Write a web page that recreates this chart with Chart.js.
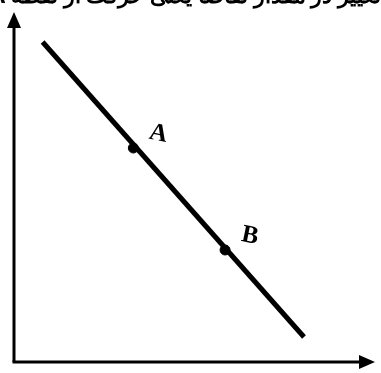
<!DOCTYPE html>
<html>
<head>
<meta charset="utf-8">
<script src="https://cdn.jsdelivr.net/npm/chart.js@4"></script>
<style>
  html, body { margin: 0; padding: 0; background: #fff; }
  #wrap { width: 381px; height: 373px; }
</style>
</head>
<body>
<div id="wrap"><canvas id="myChart"></canvas></div>
<script>
// Recta (de arriba a la izquierda hacia abajo a la derecha)
const lineX = [29, 294];
const lineY = [320, 25];

// Puntos marcados sobre la recta
const pointNames = ['A', 'B'];
const pointX = [121, 214];
const pointY = [214, 112];

// Texto de arriba (cortado en la imagen)
const titleText = 'تغییر در مقدار تقاضا یعنی حرکت از نقطه A به B';

// Ejes con flechas, etiquetas de los puntos y título
const drawExtras = {
    id: 'drawExtras',
    afterDatasetsDraw(chart) {
        const { ctx, chartArea: a, scales } = chart;
        ctx.save();
        ctx.strokeStyle = '#000';
        ctx.fillStyle = '#000';
        ctx.lineWidth = 3;

        // eje y
        ctx.beginPath();
        ctx.moveTo(a.left, a.bottom);
        ctx.lineTo(a.left, a.top + 12);
        ctx.stroke();
        ctx.beginPath();
        ctx.moveTo(a.left, a.top);
        ctx.lineTo(a.left - 7, a.top + 16);
        ctx.lineTo(a.left + 7, a.top + 16);
        ctx.closePath();
        ctx.fill();

        // eje x
        ctx.beginPath();
        ctx.moveTo(a.left - 1.5, a.bottom);
        ctx.lineTo(a.right - 12, a.bottom);
        ctx.stroke();
        ctx.beginPath();
        ctx.moveTo(a.right, a.bottom);
        ctx.lineTo(a.right - 16, a.bottom - 7);
        ctx.lineTo(a.right - 16, a.bottom + 7);
        ctx.closePath();
        ctx.fill();

        // etiquetas A y B
        ctx.font = 'bold 25px "Liberation Serif"';
        ctx.textAlign = 'center';
        ctx.textBaseline = 'middle';
        pointNames.forEach((name, i) => {
            const px = scales.x.getPixelForValue(pointX[i]);
            const py = scales.y.getPixelForValue(pointY[i]);
            ctx.save();
            ctx.translate(px + 25, py - 14);
            ctx.rotate(0.2);
            ctx.fillText(name, 0, 0);
            ctx.restore();
        });

        // título cortado arriba
        ctx.font = 'bold 22px "Noto Sans"';
        ctx.textAlign = 'right';
        ctx.textBaseline = 'alphabetic';
        ctx.direction = 'rtl';
        ctx.fillText(titleText, 381, 3);
        ctx.restore();
    }
};

const ctx = document.getElementById('myChart').getContext('2d');
let myChart = new Chart(ctx, {
    type: 'scatter',
    data: {
        datasets: [{
            label: 'recta',
            data: lineX.map((x, i) => ({ x: x, y: lineY[i] })),
            showLine: true,
            borderColor: '#000',
            borderWidth: 5,
            pointRadius: 0
        }, {
            label: 'puntos',
            data: pointX.map((x, i) => ({ x: x, y: pointY[i] })),
            backgroundColor: '#000',
            borderColor: '#000',
            pointRadius: 5
        }]
    },
    options: {
        responsive: true,
        maintainAspectRatio: false,
        animation: false,
        layout: { padding: { left: 14, right: 1, top: 12, bottom: 11 } },
        plugins: { legend: { display: false }, tooltip: { enabled: false } },
        scales: {
            x: { type: 'linear', min: 0, max: 366, display: false },
            y: { min: 0, max: 350, display: false }
        }
    },
    plugins: [drawExtras]
});
</script>
</body>
</html>
